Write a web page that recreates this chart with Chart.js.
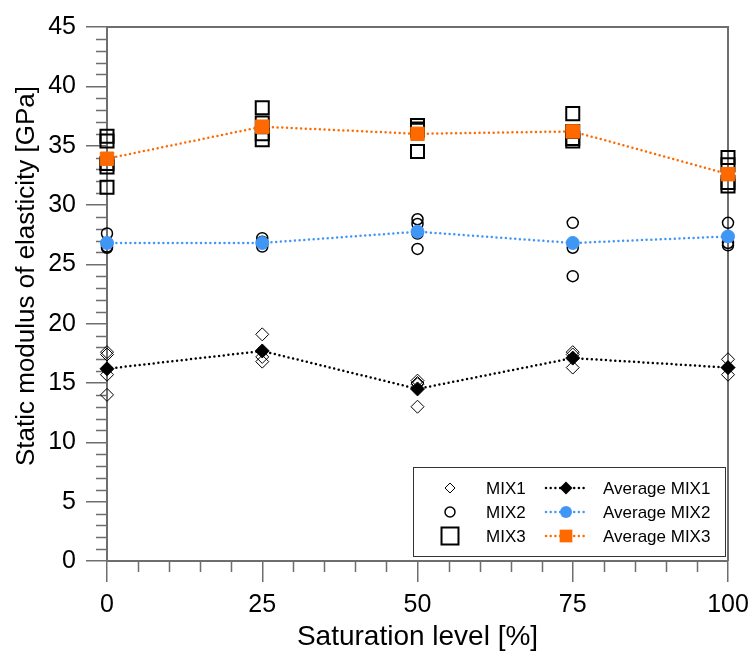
<!DOCTYPE html>
<html>
<head>
<meta charset="utf-8">
<script src="https://cdn.jsdelivr.net/npm/chart.js"></script>
<style>
  html, body { margin: 0; padding: 0; background: #fff; }
</style>
</head>
<body>
<canvas id="chart" width="749" height="651"></canvas>
<script>
// saturation levels [%]
const levels = [0, 25, 50, 75, 100];

// individual specimens, one list per saturation level [GPa]
const mix1 = [[17.6, 17.4, 15.7, 14.0], [19.1, 17.2, 16.8], [15.2, 15.0, 14.9, 13.0], [17.6, 17.4, 16.3], [17.0, 16.3, 15.7]];
const mix2 = [[27.6, 26.5, 26.4], [27.2, 26.9, 26.5], [28.8, 28.4, 27.6, 26.3], [28.5, 26.4, 24.0], [28.5, 26.8, 26.6]];
const mix3 = [[35.8, 35.4, 33.5, 33.2, 31.5], [38.2, 36.9, 36.0, 35.5], [36.7, 36.4, 36.3, 34.5], [37.7, 36.2, 35.6, 35.4], [34.0, 33.4, 31.9, 31.6]];

// averages
const avg1 = [16.2, 17.7, 14.5, 17.1, 16.3];
const avg2 = [26.8, 26.8, 27.75, 26.8, 27.35];
const avg3 = [33.9, 36.6, 36.0, 36.2, 32.6];

const xTicks = [0, 25, 50, 75, 100];
const yTicks = [0, 5, 10, 15, 20, 25, 30, 35, 40, 45];

const FONT = "'Liberation Sans', Arial, sans-serif";
const AXIS = '#6e6e6e';
const BLUE = '#4096f5';
const ORANGE = '#ff6a00';

Chart.defaults.font.family = FONT;
Chart.defaults.color = '#000';

const spread = sets => levels.flatMap((x, i) => sets[i].map(y => ({ x, y })));
const line = vals => levels.map((x, i) => ({ x, y: vals[i] }));

function mark(ctx, style, x, y, r) {
  ctx.beginPath();
  if (style === 'diamond') {
    ctx.moveTo(x - r, y); ctx.lineTo(x, y - r); ctx.lineTo(x + r, y); ctx.lineTo(x, y + r); ctx.closePath();
  } else if (style === 'circle') {
    ctx.arc(x, y, r, 0, Math.PI * 2);
  } else {
    const s = r * Math.SQRT1_2;
    ctx.rect(x - s, y - s, 2 * s, 2 * s);
  }
}

// minor ticks, top/right frame, y title and the boxed legend
const decor = {
  id: 'decor',
  beforeDatasetsDraw(chart) {
    const { ctx, chartArea: a, scales: { x, y } } = chart;
    ctx.save();
    ctx.strokeStyle = AXIS;
    ctx.lineWidth = 1.5;
    ctx.beginPath();
    for (let v = 5; v < 100; v += 5) {
      if (v % 25 === 0) continue;
      const px = Math.round(x.getPixelForValue(v)) + 0.5;
      ctx.moveTo(px, a.bottom); ctx.lineTo(px, a.bottom + 11);
    }
    for (let v = 1; v < 45; v++) {
      if (v % 5 === 0) continue;
      const py = Math.round(y.getPixelForValue(v)) + 0.5;
      ctx.moveTo(a.left, py); ctx.lineTo(a.left - 11, py);
    }
    ctx.stroke();
    ctx.lineWidth = 2;
    ctx.beginPath();
    ctx.moveTo(a.left, a.top); ctx.lineTo(a.right, a.top); ctx.lineTo(a.right, a.bottom);
    ctx.stroke();

    ctx.fillStyle = '#000';
    ctx.font = '26px ' + FONT;
    ctx.textAlign = 'center';
    ctx.textBaseline = 'alphabetic';
    ctx.translate(34, 276);
    ctx.rotate(-Math.PI / 2);
    ctx.fillText('Static modulus of elasticity [GPa]', 0, 0);
    ctx.restore();
  },
  afterDraw(chart) {
    const { ctx } = chart;
    ctx.save();
    ctx.fillStyle = '#fff';
    ctx.fillRect(413, 467, 312, 89);
    ctx.strokeStyle = '#333';
    ctx.lineWidth = 1;
    ctx.strokeRect(413.5, 467.5, 312, 89);

    const rows = [
      { name: 'MIX1', open: ['diamond', 5, 1], avg: ['diamond', 6.5], color: '#000' },
      { name: 'MIX2', open: ['circle', 5, 1.5], avg: ['circle', 6], color: BLUE },
      { name: 'MIX3', open: ['square', 12, 2], avg: ['square', 9], color: ORANGE }
    ];
    ctx.font = '17px ' + FONT;
    ctx.textBaseline = 'middle';
    rows.forEach((r, i) => {
      const cy = 488 + i * 24;
      ctx.strokeStyle = '#000';
      ctx.lineWidth = r.open[2];
      mark(ctx, r.open[0], 450, cy, r.open[1]);
      ctx.stroke();
      ctx.fillStyle = '#000';
      ctx.fillText(r.name, 486, cy + 1);

      ctx.strokeStyle = r.color;
      ctx.lineWidth = 2.5;
      ctx.lineCap = 'round';
      ctx.setLineDash([0, 4.7]);
      ctx.beginPath();
      ctx.moveTo(546, cy); ctx.lineTo(588, cy);
      ctx.stroke();
      ctx.setLineDash([]);
      ctx.fillStyle = r.color;
      mark(ctx, r.avg[0], 566, cy, r.avg[1]);
      ctx.fill();
      ctx.fillStyle = '#000';
      ctx.fillText('Average ' + r.name, 603, cy + 1);
    });
    ctx.restore();
  }
};

const openSet = (label, sets, style, r, bw) => ({
  label, data: spread(sets), pointStyle: style, radius: r, borderWidth: bw,
  borderColor: '#000', backgroundColor: 'rgba(0,0,0,0)', order: 2, clip: false
});

const avgSet = (label, vals, style, r, color) => ({
  label, data: line(vals), showLine: true, tension: 0,
  borderColor: color, borderWidth: 2.5, borderDash: [0, 4.7], borderCapStyle: 'round',
  pointStyle: style, radius: r, pointBackgroundColor: color, pointBorderColor: color,
  pointBorderWidth: 1, order: 1, clip: false
});

new Chart(document.getElementById('chart'), {
  type: 'scatter',
  data: {
    datasets: [
      openSet('MIX1', mix1, 'rectRot', 6.5, 1),
      openSet('MIX2', mix2, 'circle', 5.5, 1.5),
      openSet('MIX3', mix3, 'rect', 9.2, 2),
      avgSet('Average MIX1', avg1, 'rectRot', 7, '#000'),
      avgSet('Average MIX2', avg2, 'circle', 6.5, BLUE),
      avgSet('Average MIX3', avg3, 'rect', 9.5, ORANGE)
    ]
  },
  options: {
    responsive: false,
    animation: false,
    layout: { padding: { top: 27, right: 21, left: 0, bottom: 0 } },
    plugins: { legend: { display: false }, tooltip: { enabled: false } },
    scales: {
      x: {
        type: 'linear', min: 0, max: 100,
        afterBuildTicks: s => { s.ticks = xTicks.map(v => ({ value: v })); },
        afterFit: s => { s.height = 90; s.paddingLeft = 0; s.paddingRight = 0; },
        ticks: { padding: 8, font: { size: 25 } },
        grid: { drawOnChartArea: false, tickLength: 21, color: AXIS, lineWidth: 1.5 },
        border: { color: AXIS, width: 2 },
        title: { display: true, text: 'Saturation level [%]', font: { size: 28, lineHeight: 1 }, padding: { top: 0, bottom: 0 } }
      },
      y: {
        type: 'linear', min: 0, max: 45,
        afterBuildTicks: s => { s.ticks = yTicks.map(v => ({ value: v })); },
        afterFit: s => { s.width = 107; s.paddingTop = 0; s.paddingBottom = 0; },
        ticks: { padding: 10, font: { size: 25 } },
        grid: { drawOnChartArea: false, tickLength: 21, color: AXIS, lineWidth: 1.5 },
        border: { color: AXIS, width: 2 }
      }
    }
  },
  plugins: [decor]
});
</script>
</body>
</html>
